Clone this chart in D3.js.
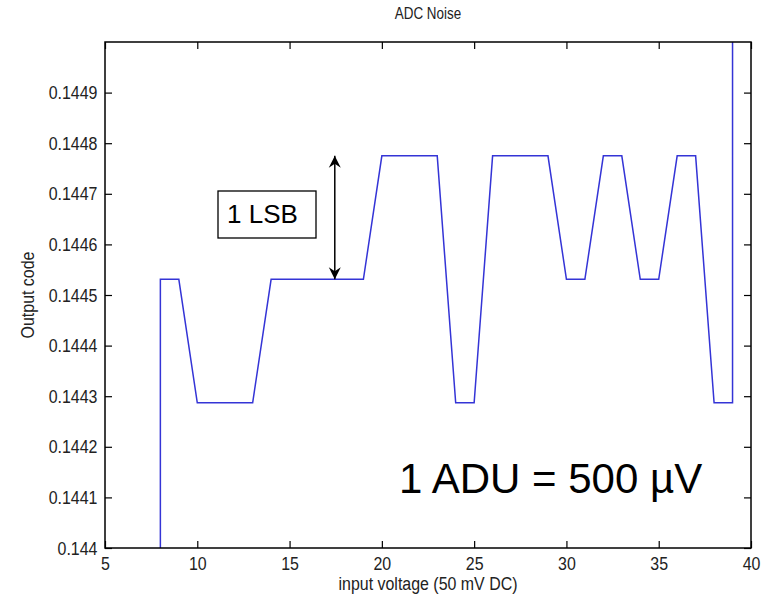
<!DOCTYPE html>
<html>
<head>
  <meta charset=utf-8 />
  <title>ADC Noise</title>
  <script type="text/javascript" src="https://d3js.org/d3.v7.min.js"></script>
  <style>
    body { margin: 0; background: white; }
    text { font-family: "Liberation Sans", Arial, sans-serif; }
  </style>
  <script>
    var w = 767;
    var h = 603;

    // input voltage steps (x) and ADC output code (y)
    var voltage = [8, 8, 9, 10, 11, 12, 13, 14, 15, 16, 17, 18, 19, 20, 21, 22, 23, 24, 25,
                   26, 27, 28, 29, 30, 31, 32, 33, 34, 35, 36, 37, 38, 39, 39];
    var code = [0.1437, 0.144531, 0.144531, 0.144287, 0.144287, 0.144287, 0.144287,
                0.144531, 0.144531, 0.144531, 0.144531, 0.144531, 0.144531,
                0.144775, 0.144775, 0.144775, 0.144775, 0.144287, 0.144287,
                0.144775, 0.144775, 0.144775, 0.144775, 0.144531, 0.144531,
                0.144775, 0.144775, 0.144531, 0.144531, 0.144775, 0.144775,
                0.144287, 0.144287, 0.1452];

    var xTicks = [5, 10, 15, 20, 25, 30, 35, 40];
    var yTicks = [0.144, 0.1441, 0.1442, 0.1443, 0.1444, 0.1445, 0.1446, 0.1447, 0.1448, 0.1449];
    var yTickLabels = ["0.144", "0.1441", "0.1442", "0.1443", "0.1444", "0.1445", "0.1446", "0.1447", "0.1448", "0.1449"];

    // 1 LSB arrow: between two neighbouring codes
    var lsbX = 17.45;
    var lsbLow = 0.144531;
    var lsbHigh = 0.144775;

    function load() {
      var left = 105, right = 751, top = 42, bottom = 548;
      var narrow = "scale(0.84,1)";

      var x = d3.scaleLinear().domain([5, 40]).range([left, right]);
      var y = d3.scaleLinear().domain([0.144, 0.145]).range([bottom, top]);

      var svg = d3.select("#vis")
        .append("svg")
        .attr("width", w)
        .attr("height", h);

      svg.append("rect")
        .attr("width", w)
        .attr("height", h)
        .attr("fill", "white");

      svg.append("defs").append("clipPath")
        .attr("id", "clip")
        .append("rect")
        .attr("x", left)
        .attr("y", top)
        .attr("width", right - left)
        .attr("height", bottom - top);

      var pts = voltage.map(function(v, i) { return [v, code[i]]; });

      svg.append("path")
        .datum(pts)
        .attr("clip-path", "url(#clip)")
        .attr("fill", "none")
        .attr("stroke", "#3434d6")
        .attr("stroke-width", 1.5)
        .attr("d", d3.line()
          .x(function(d) { return x(d[0]); })
          .y(function(d) { return y(d[1]); }));

      // axes, matlab style: ticks inside on all four sides
      var tickLen = 7;
      svg.append("g")
        .attr("transform", "translate(0," + bottom + ")")
        .call(d3.axisBottom(x).tickValues(xTicks).tickSizeInner(-tickLen).tickSizeOuter(0).tickPadding(9))
        .call(function(g) { g.select(".domain").remove(); });
      svg.append("g")
        .attr("transform", "translate(0," + top + ")")
        .call(d3.axisTop(x).tickValues(xTicks).tickSizeInner(-tickLen).tickSizeOuter(0).tickFormat(""))
        .call(function(g) { g.select(".domain").remove(); });
      svg.append("g")
        .attr("transform", "translate(" + left + ",0)")
        .call(d3.axisLeft(y).tickValues(yTicks).tickSizeInner(-tickLen).tickSizeOuter(0).tickPadding(9)
          .tickFormat(function(d, i) { return yTickLabels[i]; }))
        .call(function(g) { g.select(".domain").remove(); });
      svg.append("g")
        .attr("transform", "translate(" + right + ",0)")
        .call(d3.axisRight(y).tickValues(yTicks).tickSizeInner(-tickLen).tickSizeOuter(0).tickFormat(""))
        .call(function(g) { g.select(".domain").remove(); });

      svg.selectAll(".tick line").attr("stroke", "#000").attr("stroke-width", 1.2);
      svg.selectAll(".tick text")
        .attr("font-family", null)
        .attr("font-size", 19)
        .attr("fill", "#222")
        .attr("transform", narrow);

      svg.append("rect")
        .attr("x", left)
        .attr("y", top)
        .attr("width", right - left)
        .attr("height", bottom - top)
        .attr("fill", "none")
        .attr("stroke", "#000")
        .attr("stroke-width", 1.5);

      // titles
      svg.append("text")
        .attr("transform", "translate(" + ((left + right) / 2) + ",19) " + narrow)
        .attr("text-anchor", "middle")
        .attr("font-size", 16)
        .attr("fill", "#222")
        .text("ADC Noise");

      svg.append("text")
        .attr("transform", "translate(" + ((left + right) / 2) + ",590) " + narrow)
        .attr("text-anchor", "middle")
        .attr("font-size", 19)
        .attr("fill", "#222")
        .text("input voltage (50 mV DC)");

      svg.append("text")
        .attr("transform", "translate(34," + ((top + bottom) / 2) + ") rotate(-90) " + narrow)
        .attr("text-anchor", "middle")
        .attr("font-size", 19)
        .attr("fill", "#222")
        .text("Output code");

      // annotations
      svg.append("rect")
        .attr("x", 218)
        .attr("y", 191)
        .attr("width", 98)
        .attr("height", 47)
        .attr("fill", "white")
        .attr("stroke", "#000")
        .attr("stroke-width", 1.3);

      svg.append("text")
        .attr("x", 227)
        .attr("y", 223)
        .attr("font-size", 26)
        .attr("fill", "#000")
        .text("1 LSB");

      var marker = svg.select("defs").append("marker")
        .attr("id", "head")
        .attr("viewBox", "0 0 12 16")
        .attr("refX", 12)
        .attr("refY", 8)
        .attr("markerWidth", 12)
        .attr("markerHeight", 16)
        .attr("markerUnits", "userSpaceOnUse")
        .attr("orient", "auto-start-reverse");
      marker.append("path")
        .attr("d", "M0,2 L12,8 L0,14 L4,8 Z")
        .attr("fill", "#000");

      svg.append("line")
        .attr("x1", x(lsbX))
        .attr("x2", x(lsbX))
        .attr("y1", y(lsbLow))
        .attr("y2", y(lsbHigh))
        .attr("stroke", "#000")
        .attr("stroke-width", 1.5)
        .attr("marker-start", "url(#head)")
        .attr("marker-end", "url(#head)");

      svg.append("text")
        .attr("x", 399)
        .attr("y", 493)
        .attr("font-size", 42)
        .attr("fill", "#000")
        .text("1 ADU = 500 \u00b5V");
    }
  </script>
</head>
<body onload="load()">
  <div id="vis"></div>
</body>
</html>
